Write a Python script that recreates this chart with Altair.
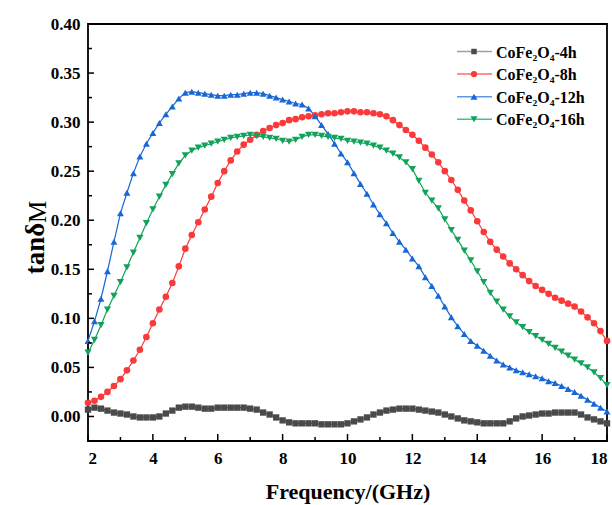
import altair as alt
import pandas as pd

# ---------------- data ----------------
FREQ = [round(2 + 0.2 * i, 1) for i in range(81)]  # 2.0 ... 18.0 GHz grid

S4 = [0.007, 0.009, 0.008, 0.006, 0.004, 0.003, 0.002, 0.000, -0.001, -0.001,
      -0.001, 0.000, 0.003, 0.006, 0.009, 0.010, 0.010, 0.009, 0.008, 0.008,
      0.009, 0.009, 0.009, 0.009, 0.009, 0.008, 0.007, 0.004, 0.002, -0.001,
      -0.004, -0.006, -0.007, -0.007, -0.007, -0.007, -0.008, -0.008, -0.008, -0.008,
      -0.007, -0.005, -0.003, -0.001, 0.002, 0.004, 0.006, 0.007, 0.008, 0.008,
      0.008, 0.007, 0.006, 0.005, 0.004, 0.002, 0.000, -0.002, -0.004, -0.005,
      -0.006, -0.007, -0.007, -0.007, -0.007, -0.005, -0.002, 0.000, 0.001, 0.002,
      0.003, 0.003, 0.004, 0.004, 0.004, 0.004, 0.002, -0.001, -0.003, -0.005,
      -0.007]

S8 = [0.014, 0.016, 0.020, 0.025, 0.031, 0.038, 0.047, 0.057, 0.068, 0.081,
      0.095, 0.109, 0.122, 0.136, 0.153, 0.171, 0.185, 0.198, 0.211, 0.224,
      0.238, 0.250, 0.261, 0.270, 0.277, 0.282, 0.287, 0.291, 0.294, 0.297,
      0.299, 0.302, 0.303, 0.305, 0.306, 0.307, 0.308, 0.309, 0.309, 0.310,
      0.311, 0.311, 0.310, 0.310, 0.309, 0.308, 0.306, 0.302, 0.297, 0.292,
      0.287, 0.281, 0.274, 0.267, 0.259, 0.250, 0.241, 0.231, 0.220, 0.210,
      0.199, 0.188, 0.178, 0.170, 0.163, 0.156, 0.150, 0.144, 0.138, 0.133,
      0.129, 0.125, 0.121, 0.118, 0.115, 0.112, 0.107, 0.101, 0.095, 0.087,
      0.077]

S12 = [0.077, 0.097, 0.120, 0.148, 0.178, 0.207, 0.228, 0.248, 0.265, 0.278,
       0.289, 0.299, 0.308, 0.316, 0.324, 0.330, 0.331, 0.330, 0.329, 0.328,
       0.327, 0.327, 0.328, 0.328, 0.329, 0.330, 0.330, 0.329, 0.327, 0.325,
       0.323, 0.321, 0.319, 0.318, 0.314, 0.306, 0.297, 0.288, 0.278, 0.268,
       0.259, 0.248, 0.237, 0.227, 0.216, 0.206, 0.197, 0.187, 0.178, 0.170,
       0.161, 0.153, 0.142, 0.133, 0.123, 0.112, 0.101, 0.092, 0.084, 0.077,
       0.072, 0.067, 0.062, 0.057, 0.053, 0.050, 0.047, 0.045, 0.043, 0.041,
       0.039, 0.036, 0.034, 0.031, 0.028, 0.025, 0.021, 0.017, 0.013, 0.009,
       0.005]

S16 = [0.065, 0.078, 0.093, 0.109, 0.123, 0.137, 0.152, 0.167, 0.182, 0.197,
       0.211, 0.224, 0.236, 0.247, 0.258, 0.266, 0.271, 0.274, 0.276, 0.278,
       0.280, 0.282, 0.284, 0.285, 0.286, 0.287, 0.286, 0.285, 0.284, 0.283,
       0.281, 0.280, 0.282, 0.285, 0.287, 0.287, 0.286, 0.285, 0.284, 0.283,
       0.281, 0.280, 0.279, 0.278, 0.276, 0.274, 0.271, 0.268, 0.264, 0.259,
       0.252, 0.240, 0.228, 0.220, 0.212, 0.201, 0.190, 0.180, 0.169, 0.159,
       0.148, 0.137, 0.126, 0.117, 0.109, 0.102, 0.096, 0.091, 0.086, 0.082,
       0.078, 0.074, 0.070, 0.066, 0.062, 0.058, 0.054, 0.050, 0.045, 0.039,
       0.032]

NAMES = ["CoFe₂O₄-4h", "CoFe₂O₄-8h", "CoFe₂O₄-12h", "CoFe₂O₄-16h"]
SERIES = [S4, S8, S12, S16]

X_MAJOR = [2, 4, 6, 8, 10, 12, 14, 16, 18]
X_MINOR = [3, 5, 7, 9, 11, 13, 15, 17]
Y_MAJOR = [0.00, 0.05, 0.10, 0.15, 0.20, 0.25, 0.30, 0.35, 0.40]
Y_MINOR = [0.025, 0.075, 0.125, 0.175, 0.225, 0.275, 0.325, 0.375]

# ---------------- styles ----------------
COLORS = ["#4a4a4a", "#fa3a3a", "#1767d6", "#12a35a"]
LEG_LINE = ["#a0a0a0", "#ff6b6b", "#5a9ae8", "#4dbf85"]
SHAPES = ["square", "circle", "triangle-up", "triangle-down"]
SIZES = [40, 52, 66, 66]
LEG_SIZES = [30, 40, 50, 50]
FONT = "Liberation Serif"
W, H = 519, 417

rows = []
for name, vals in zip(NAMES, SERIES):
    for f, v in zip(FREQ, vals):
        rows.append({"f": f, "v": v, "series": name})
df = pd.DataFrame(rows)

xscale = alt.Scale(domain=[2, 18], nice=False, zero=False)
yscale = alt.Scale(domain=[-0.025, 0.40], nice=False, zero=False)

x_enc = alt.X(
    "f:Q", scale=xscale,
    axis=alt.Axis(values=X_MAJOR, format="d", ticks=False, domain=False, grid=False,
                  labelFont=FONT, labelFontSize=17, labelFontWeight="bold",
                  labelColor="black", labelPadding=9,
                  title="Frequency/(GHz)", titleFont=FONT, titleFontSize=22,
                  titleFontWeight="bold", titleColor="black",
                  titleBaseline="alphabetic", titleY=57),
)
y_enc = alt.Y(
    "v:Q", scale=yscale,
    axis=alt.Axis(values=Y_MAJOR, format=".2f", ticks=False, domain=False, grid=False,
                  labelFont=FONT, labelFontSize=17, labelFontWeight="bold",
                  labelColor="black", labelPadding=8,
                  title="tanδ", titleFont=FONT, titleFontSize=27,
                  titleFontWeight="bold", titleColor="black",
                  titleAngle=270, titleBaseline="alphabetic", titleAlign="center",
                  titleX=-45, titleY=224),
)

color = alt.Color("series:N", scale=alt.Scale(domain=NAMES, range=COLORS), legend=None)
shape = alt.Shape("series:N", scale=alt.Scale(domain=NAMES, range=SHAPES), legend=None)
size = alt.Size("series:N", scale=alt.Scale(domain=NAMES, range=SIZES), legend=None)

lines = alt.Chart(df).mark_line(strokeWidth=1.2, clip=False).encode(
    x=x_enc, y=y_enc, color=color, detail="series:N"
)
points = alt.Chart(df).mark_point(filled=True, opacity=1, clip=False).encode(
    x="f:Q", y="v:Q", color=color, shape=shape, size=size
)

# inward ticks
xmaj = alt.Chart(pd.DataFrame({"t": X_MAJOR})).mark_rule(color="black", strokeWidth=1.5).encode(
    x="t:Q", y=alt.value(H), y2=alt.value(H - 7))
xmin = alt.Chart(pd.DataFrame({"t": X_MINOR})).mark_rule(color="black", strokeWidth=1.5).encode(
    x="t:Q", y=alt.value(H), y2=alt.value(H - 4))
ymaj = alt.Chart(pd.DataFrame({"t": Y_MAJOR})).mark_rule(color="black", strokeWidth=1.5).encode(
    y="t:Q", x=alt.value(0), x2=alt.value(6))
ymin = alt.Chart(pd.DataFrame({"t": Y_MINOR})).mark_rule(color="black", strokeWidth=1.5).encode(
    y="t:Q", x=alt.value(0), x2=alt.value(4))

# subscript-like M of the y title
mtext = alt.Chart(pd.DataFrame({"s": ["M"]})).mark_text(
    font=FONT, fontSize=25, angle=270, align="center", baseline="alphabetic", color="black"
).encode(x=alt.value(-42), y=alt.value(188), text="s:N")

# manual legend
legend_layers = []
for i, name in enumerate(NAMES):
    yy = 27.5 + 22.6 * i
    d = pd.DataFrame({"s": [name]})
    legend_layers.append(alt.Chart(d).mark_rule(color=LEG_LINE[i], strokeWidth=1.5).encode(
        x=alt.value(369), x2=alt.value(404), y=alt.value(yy)))
    legend_layers.append(alt.Chart(d).mark_point(
        shape=SHAPES[i], filled=True, opacity=1, size=LEG_SIZES[i], color=COLORS[i]).encode(
        x=alt.value(386), y=alt.value(yy)))
    legend_layers.append(alt.Chart(d).mark_text(
        font=FONT, fontSize=16, fontWeight="bold", align="left", baseline="middle",
        color="black").encode(x=alt.value(408), y=alt.value(yy + 1), text="s:N"))

chart = alt.layer(lines, points, xmaj, xmin, ymaj, ymin, mtext, *legend_layers).properties(
    width=W, height=H,
    autosize=alt.AutoSizeParams(type="none"),
    padding={"left": 88, "top": 24, "right": 5, "bottom": 64},
    background="white",
).configure_view(stroke="black", strokeWidth=1.8)

chart.save("out.html", embed_options={"renderer": "svg", "actions": False})
